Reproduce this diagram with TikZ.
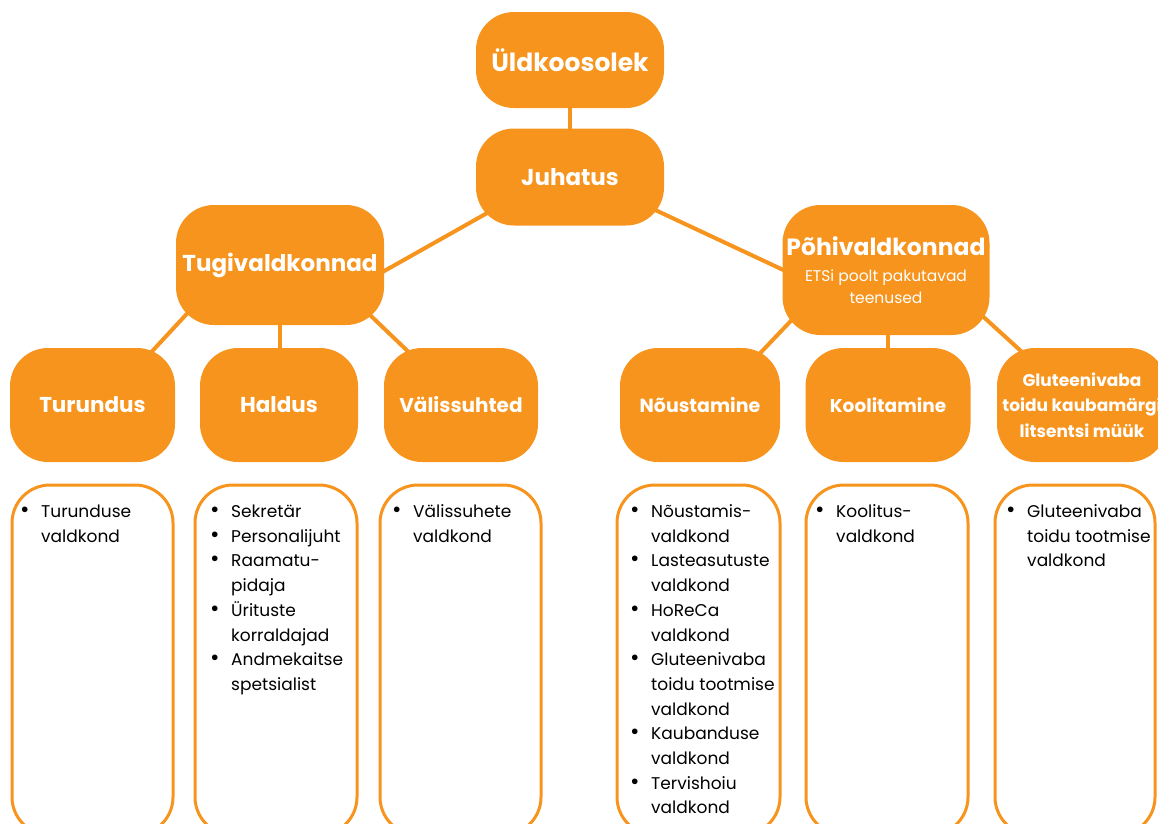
\documentclass[tikz,border=0pt]{standalone}
\usepackage{fontspec}
\setmainfont{Poppins}
\usetikzlibrary{calc,backgrounds}
\definecolor{orng}{RGB}{247,148,29}
\newcommand{\bl}{\makebox[21pt][l]{\scalebox{1.35}{\textbullet}}}
\newcommand{\ind}{\hspace*{21pt}}
\begin{document}
\begin{tikzpicture}[x=1pt,y=-1pt,
  hdr/.style={fill=orng, draw=none, rounded corners=38pt, text=white, align=center, inner sep=0pt, font=\bfseries},
  lbox/.style={draw=orng, line width=3pt, fill=white, rounded corners=38pt, inner sep=0pt},
  conn/.style={draw=orng, line width=4pt},
  ltext/.style={anchor=north west, inner sep=0pt, align=left, font=\fontsize{17}{24.7}\selectfont}]
\useasboundingbox (0,0) rectangle (1158,823);
\clip (0,0) rectangle (1158,823);
% top level
\node[hdr, minimum width=188pt, minimum height=96pt, font=\bfseries\fontsize{25}{28}\selectfont] (uld) at (570,60) {Üldkoosolek};
\node[hdr, minimum width=188pt, minimum height=97pt, font=\bfseries\fontsize{23}{28}\selectfont] (juh) at (570,177) {Juhatus};
\node[hdr, minimum width=208pt, minimum height=120pt, font=\bfseries\fontsize{23}{26}\selectfont] (tugi) at (280,265) {Tugivaldkonnad};
\node[hdr, minimum width=207pt, minimum height=130pt, font=\fontsize{15.5}{22}\selectfont] (pohi) at (886,270) {{\bfseries\fontsize{23.5}{22}\selectfont Põhivaldkonnad}\\[4pt]ETSi poolt pakutavad\\teenused};
% children
\node[hdr, minimum width=165pt, minimum height=114pt, font=\bfseries\fontsize{21.5}{24}\selectfont] (tur) at (92.5,405) {Turundus};
\node[hdr, minimum width=158pt, minimum height=114pt, font=\bfseries\fontsize{21.5}{24}\selectfont] (hal) at (279,405) {Haldus};
\node[hdr, minimum width=154pt, minimum height=114pt, font=\bfseries\fontsize{20}{24}\selectfont] (val) at (461,405) {Välissuhted};
\node[hdr, minimum width=160pt, minimum height=114pt, font=\bfseries\fontsize{19}{24}\selectfont] (nou) at (700,405) {Nõustamine};
\node[hdr, minimum width=165pt, minimum height=114pt, font=\bfseries\fontsize{18.5}{24}\selectfont] (koo) at (888,405) {Koolitamine};
\node[hdr, minimum width=170pt, minimum height=114pt, font=\bfseries\fontsize{17}{25.5}\selectfont] (glu) at (1082,405) {Gluteenivaba\\toidu kaubamärgi\\litsentsi müük};
% connectors
\begin{scope}[on background layer]
\draw[conn] (uld.center) -- (juh.center);
\draw[conn] ($(juh.center)+(-61.5,24)$) -- ($(tugi.center)+(81.2,19)$);
\draw[conn] ($(juh.center)+(64.1,23.1)$) -- ($(pohi.center)+(-80,10.6)$);
\draw[conn] ($(tugi.center)+(-79.7,34.3)$) -- ($(tur.center)+(45.6,-38.6)$);
\draw[conn] (tugi.center) -- (tugi.center|-hal.center);
\draw[conn] ($(tugi.center)+(75.6,36.2)$) -- ($(val.center)+(-38.3,-39.5)$);
\draw[conn] ($(pohi.center)+(-80.5,35.5)$) -- ($(nou.center)+(46.2,-37.2)$);
\draw[conn] (koo.center) -- (koo.center|-pohi.center);
\draw[conn] ($(pohi.center)+(84.2,34.8)$) -- ($(glu.center)+(-45.5,-39.8)$);
\end{scope}
% list boxes
\node[lbox, minimum width=161pt, minimum height=350pt] (b1) at (92.5,660) {};
\node[lbox, minimum width=162pt, minimum height=350pt] (b2) at (276,660) {};
\node[lbox, minimum width=161pt, minimum height=350pt] (b3) at (460.5,660) {};
\node[lbox, minimum width=163pt, minimum height=350pt] (b4) at (698.5,660) {};
\node[lbox, minimum width=162pt, minimum height=350pt] (b5) at (887,660) {};
\node[lbox, minimum width=160pt, minimum height=350pt] (b6) at (1075,660) {};
\node[ltext] (t1) at (20,500) {\strut\bl Turunduse\\\strut\ind valdkond};
\node[ltext] (t2) at (210,500) {\strut\bl Sekretär\\\strut\bl Personalijuht\\\strut\bl Raamatu-\\\strut\ind pidaja\\\strut\bl Ürituste\\\strut\ind korraldajad\\\strut\bl Andmekaitse\\\strut\ind spetsialist};
\node[ltext] (t3) at (392,500) {\strut\bl Välissuhete\\\strut\ind valdkond};
\node[ltext] (t4) at (630,500) {\strut\bl Nõustamis-\\\strut\ind valdkond\\\strut\bl Lasteasutuste\\\strut\ind valdkond\\\strut\bl HoReCa\\\strut\ind valdkond\\\strut\bl Gluteenivaba\\\strut\ind toidu tootmise\\\strut\ind valdkond\\\strut\bl Kaubanduse\\\strut\ind valdkond\\\strut\bl Tervishoiu\\\strut\ind valdkond};
\node[ltext] (t5) at (815,500) {\strut\bl Koolitus-\\\strut\ind valdkond};
\node[ltext] (t6) at (1006,500) {\strut\bl Gluteenivaba\\\strut\ind toidu tootmise\\\strut\ind valdkond};
\end{tikzpicture}
\end{document}
